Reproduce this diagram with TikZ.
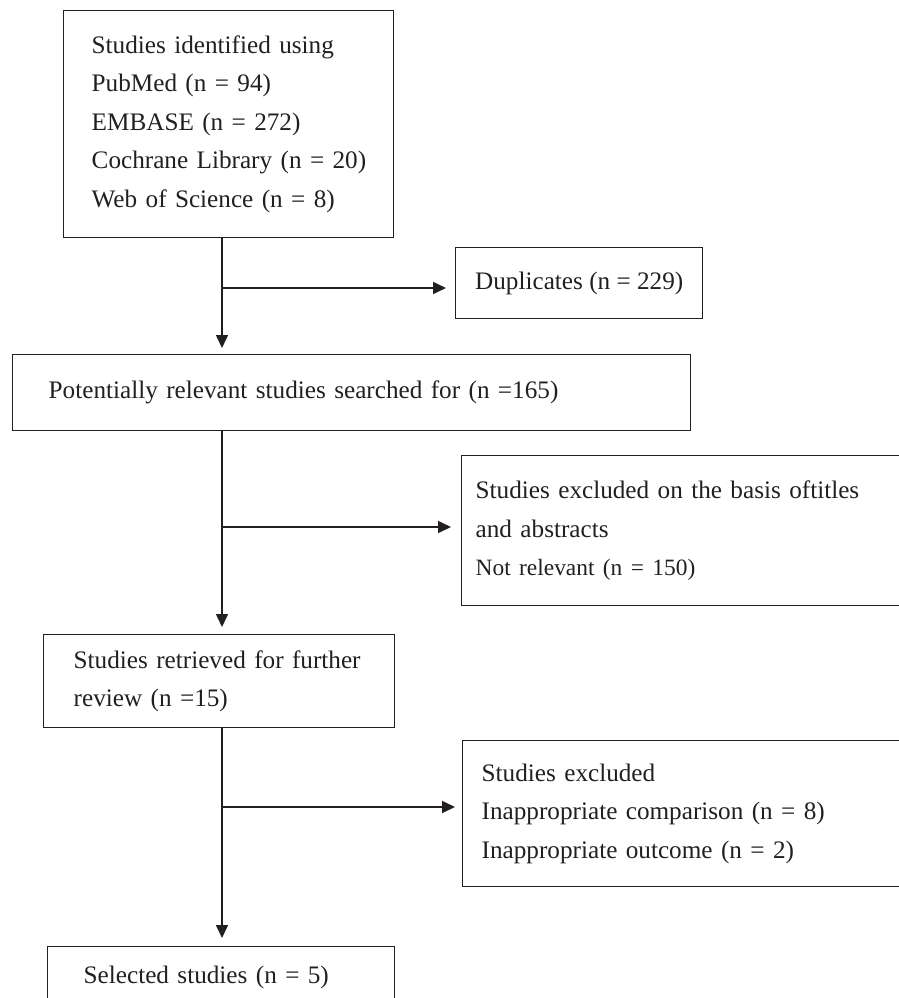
\documentclass[tikz,border=0pt]{standalone}
\usepackage{fontspec}
\setmainfont{Liberation Serif}
\usetikzlibrary{positioning, arrows.meta, calc}
\definecolor{FlowInk}{RGB}{35,31,32}

\begin{document}
\begin{tikzpicture}[x=1pt, y=-1pt,
          bx/.style={rectangle, draw=FlowInk, line width=1.4pt,
                     anchor=north west, align=left, text=FlowInk,
                     inner xsep=0pt, inner ysep=0pt,
                     font=\fontsize{25.2}{38.5}\selectfont},
          lpad/.style={execute at begin node={\leftskip=#1}},
          arr/.style={-{Triangle[length=13pt, width=12pt]}, draw=FlowInk,
                      line width=1.6pt}
        ]
        \useasboundingbox (0,0) rectangle (898,998);

        \node[bx, text width=330pt, minimum height=227pt, lpad=28pt]
              (src) at (63,10)
              {Studies identified using\\PubMed (n = 94)\\EMBASE (n = 272)\\
               Cochrane Library (n = 20)\\Web of Science (n = 8)};
        \node[bx, minimum width=247pt, minimum height=71pt, align=center]
              (dup) at (455,247)
              {Duplicates (n = 229)};
        \node[bx, text width=678pt, minimum height=76pt, lpad=36pt]
              (pot) at (12,354)
              {Potentially relevant studies searched for (n =165)};
        \node[bx, text width=459pt, minimum height=150pt, lpad=14pt]
              (exA) at (461,455)
              {Studies excluded on the basis oftitles\\and abstracts\\
               {\fontsize{23.4}{38.5}\selectfont Not relevant (n = 150)}};
        \node[bx, text width=351pt, minimum height=93pt, lpad=30pt]
              (ret) at (43,634)
              {Studies retrieved for further\\review (n =15)};
        \node[bx, text width=458pt, minimum height=146pt, lpad=19pt]
              (exB) at (462,740)
              {Studies excluded\\Inappropriate comparison (n = 8)\\
               Inappropriate outcome (n = 2)};
        \node[bx, text width=347pt, minimum height=62pt, lpad=36pt]
              (sel) at (47,946)
              {Selected studies (n = 5)};

        \coordinate (spine) at (222,0);
        \coordinate (fork1) at (222,288);
        \coordinate (fork2) at (222,527);
        \coordinate (fork3) at (222,807);

        \draw[arr, shorten >=6pt] (src.south -| spine) -- (pot.north -| spine);
        \draw[arr, shorten >=7pt] (pot.south -| spine) -- (ret.north -| spine);
        \draw[arr, shorten >=8pt] (ret.south -| spine) -- (sel.north -| spine);
        \draw[arr, shorten >=9pt] (fork1) -- (dup.west |- fork1);
        \draw[arr, shorten >=10pt] (fork2) -- (exA.west |- fork2);
        \draw[arr, shorten >=7pt] (fork3) -- (exB.west |- fork3);
      \end{tikzpicture}
\end{document}
